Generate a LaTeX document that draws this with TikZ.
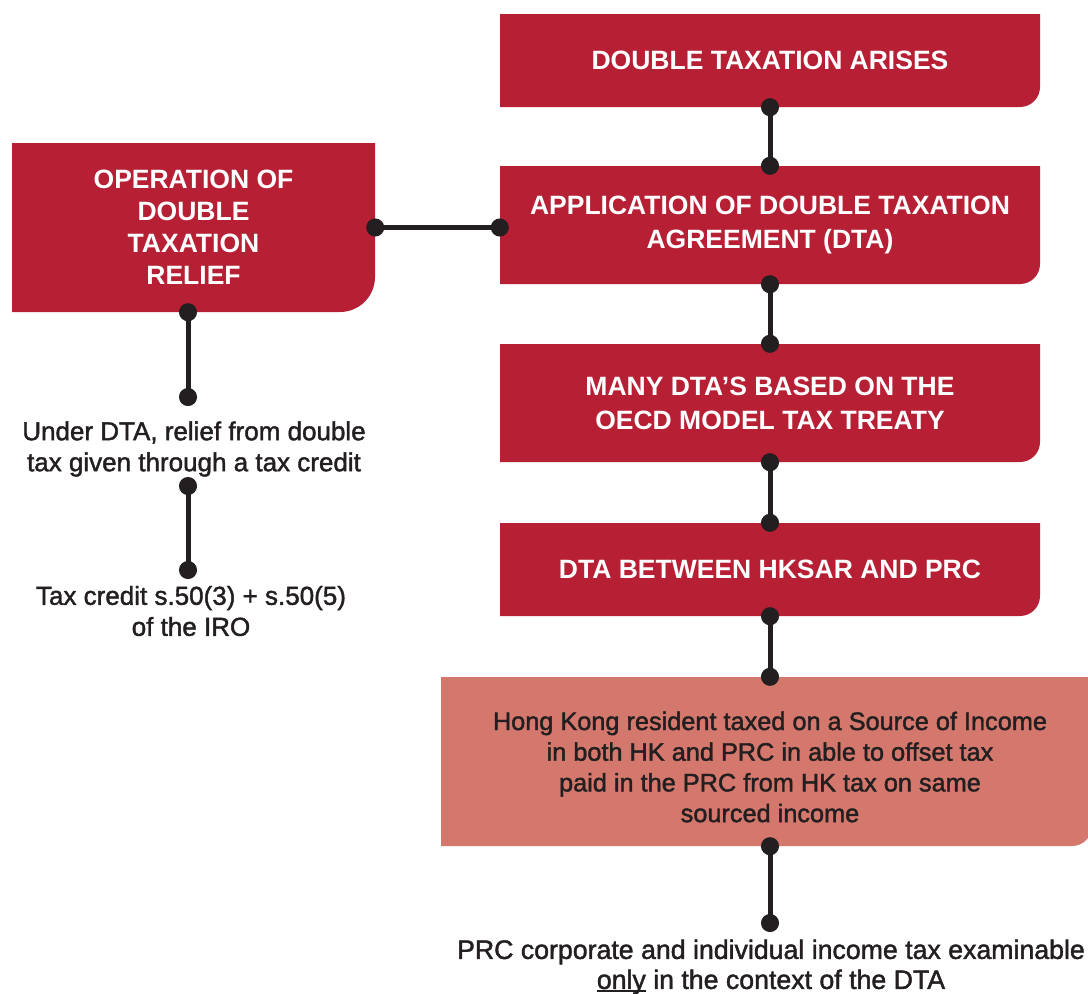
\documentclass[tikz,border=0pt]{standalone}
\usepackage{fontspec}
\setmainfont{Liberation Sans}
\newfontfamily\medfont[FakeBold=1.6]{Liberation Sans}
\usetikzlibrary{arrows.meta}
\definecolor{boxred}{HTML}{B71F34}
\definecolor{boxpink}{HTML}{D4776C}
\definecolor{ink}{HTML}{231F20}
\newcommand\myul[1]{\setbox0\hbox{#1}\rlap{\rule[-3pt]{\wd0}{1.8pt}}\box0\relax}
\tikzset{
  cornerbox/.style 2 args={inner sep=0pt, align=center,
    path picture={\fill[#1] (path picture bounding box.north west) -- (path picture bounding box.north east)
      -- ([yshift=#2]path picture bounding box.south east) arc[start angle=0,end angle=-90,radius=#2]
      -- (path picture bounding box.south west) -- cycle;}},
  redbox/.style={cornerbox={boxred}{20pt}, text=white, font=\bfseries\fontsize{26.5}{34}\selectfont},
  pinkbox/.style={cornerbox={boxpink}{20pt}},
  txt/.style={inner sep=0pt, align=center, text=ink, font=\medfont\fontsize{26}{31}\selectfont},
  conn/.style={draw=ink, line width=5pt, {Circle[length=18pt,width=18pt]}-{Circle[length=18pt,width=18pt]},
    shorten <=-9pt, shorten >=-9pt}
}
\begin{document}
\begin{tikzpicture}[x=1pt,y=1pt]
\useasboundingbox (0,0) rectangle (1088,-994);
% right column
\node[redbox, minimum width=540pt, minimum height=93pt] (arise) at (770,-60.5) {DOUBLE TAXATION ARISES};
\node[redbox, minimum width=540pt, minimum height=118pt] (app) at (770,-225) {APPLICATION OF DOUBLE TAXATION\\AGREEMENT (DTA)};
\node[redbox, minimum width=540pt, minimum height=118pt] (many) at (770,-403) {MANY DTA'S BASED ON THE\\OECD MODEL TAX TREATY};
\node[redbox, minimum width=540pt, minimum height=93pt] (hksar) at (770,-569.5) {DTA BETWEEN HKSAR AND PRC};
\node[pinkbox, minimum width=651pt, minimum height=169pt] (hk) at (766.5,-761.5) {};
\node[txt, font=\medfont\fontsize{25.3}{30.7}\selectfont] (hktext) at (770,-767) {Hong Kong resident taxed on a Source of Income\\in both HK and PRC in able to offset tax\\paid in the PRC from HK tax on same\\sourced income};
\node[txt, font=\medfont\fontsize{26.7}{30}\selectfont] (prc) at (771,-967) {PRC corporate and individual income tax examinable\\\myul{only} in the context of the DTA};
% left column
\node[redbox, minimum width=363pt, minimum height=169pt, cornerbox={boxred}{35pt}, font=\bfseries\fontsize{26.5}{32}\selectfont] (op) at (193.5,-227.5) {OPERATION OF\\DOUBLE\\TAXATION\\RELIEF};
\node[txt] (under) at (194,-449) {Under DTA, relief from double\\tax given through a tax credit};
\node[txt] (credit) at (191,-611) {Tax credit s.50(3) + s.50(5)\\of the IRO};
% free ends
\coordinate (c1) at (188,-397);
\coordinate (c2) at (188,-486);
\coordinate (c3) at (188,-570);
\coordinate (c4) at (770,-923);
% connectors
\draw[conn] (arise.south) -- (app.north);
\draw[conn] (app.south) -- (many.north);
\draw[conn] (many.south) -- (hksar.north);
\draw[conn] (hksar.south) -- (hksar.south |- hk.north);
\draw[conn] (hk.south -| c4) -- (c4);
\draw[conn] (op.east) -- (op.east -| app.west);
\draw[conn] (op.south -| c1) -- (c1);
\draw[conn] (c2) -- (c3);
\end{tikzpicture}
\end{document}
